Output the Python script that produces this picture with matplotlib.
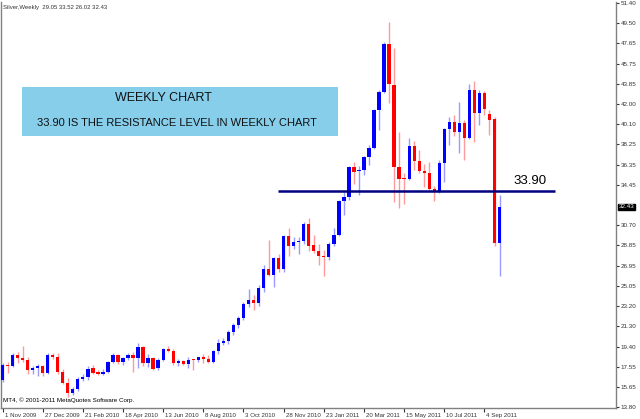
import numpy as np
import matplotlib
matplotlib.use("Agg")
import matplotlib.pyplot as plt
import matplotlib.transforms as mtransforms
from matplotlib.patches import Rectangle

# weekly silver candles (open, high, low, close)
opens = [16.3, 17.7, 17.6, 18.6, 18.35, 18.2, 17.25, 17.4, 17.6, 17.0,
         18.6, 18.45, 17.1, 16.0, 15.1, 15.5, 16.4, 16.6, 17.4, 17.05,
         16.9, 17.1, 18.0, 18.6, 18.0, 18.35, 18.6, 18.4, 19.4, 17.9,
         18.4, 17.4, 18.2, 19.2, 19.05, 17.9, 18.1, 17.8, 18.25, 18.15,
         18.45, 18.25, 18.0, 19.0, 19.8, 19.9, 20.8, 21.4, 22.1, 23.4,
         23.8, 23.5, 24.9, 26.6, 26.1, 27.7, 26.6, 29.7, 28.8, 29.15,
         29.25, 30.8, 28.85, 28.3, 27.85, 27.75, 29.0, 29.8, 33.0, 33.3,
         36.1, 35.75, 35.85, 37.1, 37.9, 41.4, 43.1, 47.6, 43.8, 36.1,
         35.05, 35.0, 38.1, 36.7, 35.75, 35.6, 34.1, 33.8, 36.5, 39.7,
         40.3, 39.4, 40.2, 38.8, 43.3, 41.2, 43.0, 41.1, 40.6, 29.05]
highs = [17.9, 18.0, 18.8, 18.9, 19.5, 18.5, 17.6, 17.8, 17.7, 18.8,
         18.8, 18.8, 17.3, 16.5, 15.7, 16.6, 16.9, 17.6, 17.7, 17.2,
         17.3, 18.1, 18.8, 18.7, 18.5, 18.8, 18.9, 19.8, 19.5, 18.7,
         18.5, 18.4, 19.3, 19.5, 19.2, 18.3, 18.2, 18.5, 18.3, 18.5,
         18.7, 18.6, 19.1, 20.1, 20.2, 21.0, 21.6, 22.3, 23.6, 24.8,
         24.2, 25.2, 27.0, 29.3, 27.8, 28.0, 29.8, 30.5, 29.6, 29.6,
         31.0, 31.4, 29.8, 29.0, 28.4, 29.2, 30.5, 33.1, 33.8, 36.2,
         36.6, 36.2, 37.2, 38.2, 41.5, 43.3, 47.8, 49.6, 47.2, 39.4,
         35.6, 38.8, 38.6, 37.7, 36.4, 36.6, 34.4, 36.8, 39.8, 40.8,
         41.0, 42.2, 40.5, 43.9, 44.1, 43.3, 43.2, 41.4, 40.8, 33.52]
lows = [16.1, 17.0, 17.5, 17.9, 18.0, 16.9, 16.9, 16.7, 16.7, 16.9,
        18.3, 16.9, 15.9, 14.7, 14.9, 15.3, 16.2, 16.3, 16.9, 16.8,
        16.8, 17.0, 17.9, 17.8, 17.7, 18.2, 17.1, 17.4, 17.6, 17.5,
        17.2, 17.2, 18.1, 18.9, 17.7, 17.6, 17.7, 17.4, 17.2, 18.0,
        17.9, 17.9, 17.9, 18.7, 19.6, 19.7, 20.5, 21.2, 21.9, 23.1,
        22.8, 23.2, 24.5, 26.0, 25.0, 26.4, 26.4, 27.9, 28.5, 28.0,
        29.0, 28.3, 28.1, 27.0, 26.0, 27.5, 28.8, 29.7, 31.7, 33.1,
        34.6, 33.5, 35.4, 36.3, 37.8, 39.6, 43.0, 42.1, 32.9, 32.3,
        32.7, 34.9, 35.85, 35.6, 34.3, 33.9, 33.0, 33.7, 34.7, 38.2,
        39.0, 37.4, 36.8, 38.7, 38.5, 40.0, 41.0, 39.1, 28.8, 26.02]
closes = [17.7, 17.6, 18.6, 18.35, 18.2, 17.25, 17.4, 17.6, 17.0, 18.6,
          18.45, 17.1, 16.0, 15.1, 15.5, 16.4, 16.6, 17.35, 17.0, 16.9,
          17.1, 18.0, 18.6, 18.0, 18.35, 18.6, 18.4, 19.4, 17.9, 18.4,
          17.3, 18.2, 19.2, 19.0, 17.9, 18.1, 17.8, 18.2, 18.15, 18.45,
          18.25, 18.0, 19.0, 19.8, 19.9, 20.8, 21.4, 22.1, 23.4, 23.8,
          23.5, 24.9, 26.6, 26.1, 27.7, 26.6, 29.7, 28.8, 29.15, 29.25,
          30.8, 28.8, 28.3, 27.85, 27.75, 29.0, 29.8, 33.0, 33.3, 36.1,
          35.7, 35.85, 37.1, 37.9, 41.4, 43.1, 47.6, 43.9, 36.1, 35.0,
          35.0, 38.1, 36.7, 35.8, 35.6, 34.1, 33.8, 36.5, 39.7, 40.3,
          39.4, 40.2, 38.8, 43.3, 41.2, 43.0, 41.5, 40.5, 29.05, 32.43]

date_labels = ["1 Nov 2009", "27 Dec 2009", "21 Feb 2010", "18 Apr 2010",
               "13 Jun 2010", "8 Aug 2010", "3 Oct 2010", "28 Nov 2010",
               "23 Jan 2011", "20 Mar 2011", "15 May 2011", "10 Jul 2011",
               "4 Sep 2011"]
price_ticks = [13.80, 15.65, 17.55, 19.40, 21.30, 23.20, 25.05, 26.95, 28.85,
               30.70, 34.45, 36.35, 38.25, 40.10, 42.00, 43.85, 45.75, 47.65,
               49.50, 51.40]
resistance = 33.90
last_price = 32.43

small_font = "Liberation Sans"

W, H = 640, 419
fig = plt.figure(figsize=(W / 100, H / 100), dpi=100)
fig.patch.set_facecolor("white")
ax = fig.add_axes([1 / W, (H - 408) / H, 615 / W, 406 / H])

x = np.arange(len(opens))
o = np.array(opens)
c = np.array(closes)
up = c >= o
body_col = np.where(up, "#0000ff", "#ff0000")
wick_col = np.where(up, "#9a9aff", "#ff9a9a")

# wicks then bodies
ax.vlines(x, lows, highs, colors=wick_col, linewidth=1, zorder=2)
heights = np.where(np.abs(c - o) < 0.09, 0.09, np.abs(c - o))
bottoms = np.minimum(o, c)
ax.bar(x, heights, bottom=bottoms, width=0.66, color=body_col,
       linewidth=0, zorder=3)

ax.set_xlim(-0.3, 122.2)
ax.set_ylim(13.71, 51.49)

# resistance line
ax.hlines(resistance, 54.9, 110.1, colors="#000080", linewidth=1.8, zorder=4)
ax.text(101.8, resistance + 0.35, "%.2f" % resistance, fontsize=9.5,
        family="Liberation Sans", color="black", va="bottom", ha="left")

# axes look
ax.spines["top"].set_visible(False)
for s in ["left", "bottom", "right"]:
    ax.spines[s].set_color("#808080")
    ax.spines[s].set_linewidth(1)

ax.yaxis.tick_right()
ax.set_yticks(price_ticks)
ax.set_yticklabels(["%.2f" % v for v in price_ticks], family=small_font)
ax.tick_params(axis="y", direction="out", length=2, width=0.8, pad=1.2,
               labelsize=4.5, colors="#333333")

ax.set_xticks(np.arange(0, len(opens), 8))
ax.set_xticklabels(date_labels, family=small_font)
ax.tick_params(axis="x", direction="out", length=3, width=0.8, pad=0.8,
               labelsize=4.4, colors="#333333")
offset = mtransforms.ScaledTranslation(2 / 100, 0, fig.dpi_scale_trans)
for lab in ax.get_xticklabels():
    lab.set_horizontalalignment("left")
    lab.set_transform(lab.get_transform() + offset)

# current price marker on the scale
ax.text(1.004, last_price, "%.2f" % last_price, transform=ax.get_yaxis_transform(),
        fontsize=4.5, family=small_font, color="white", va="center", ha="left",
        bbox=dict(boxstyle="square,pad=0.12", facecolor="black", edgecolor="black"))

# header and copyright
fig.text(3 / W, 1 - 7 / H, "Silver,Weekly  29.05 33.52 26.02 32.43", fontsize=4.3,
         family=small_font, color="#333333", va="center", ha="left")
ax.text(0.004, 0.013, "MT4, \u00a9 2001-2011 MetaQuotes Software Corp.",
        transform=ax.transAxes, fontsize=4.5, family=small_font, color="black",
        va="bottom", ha="left")

# info box
fig.patches.append(Rectangle((22 / W, 1 - 136 / H), 316 / W, 49 / H,
                             transform=fig.transFigure, facecolor="#87ceeb",
                             edgecolor="none", zorder=5))
fig.text(163 / W, 1 - 98 / H, "WEEKLY CHART", fontsize=9, family="Liberation Sans",
         color="#111111", ha="center", va="center", zorder=6)
fig.text(177 / W, 1 - 123 / H, "33.90 IS THE RESISTANCE LEVEL IN WEEKLY CHART",
         fontsize=8, family="Liberation Sans", color="#111111",
         ha="center", va="center", zorder=6)

fig.savefig("out.png", dpi=100)
